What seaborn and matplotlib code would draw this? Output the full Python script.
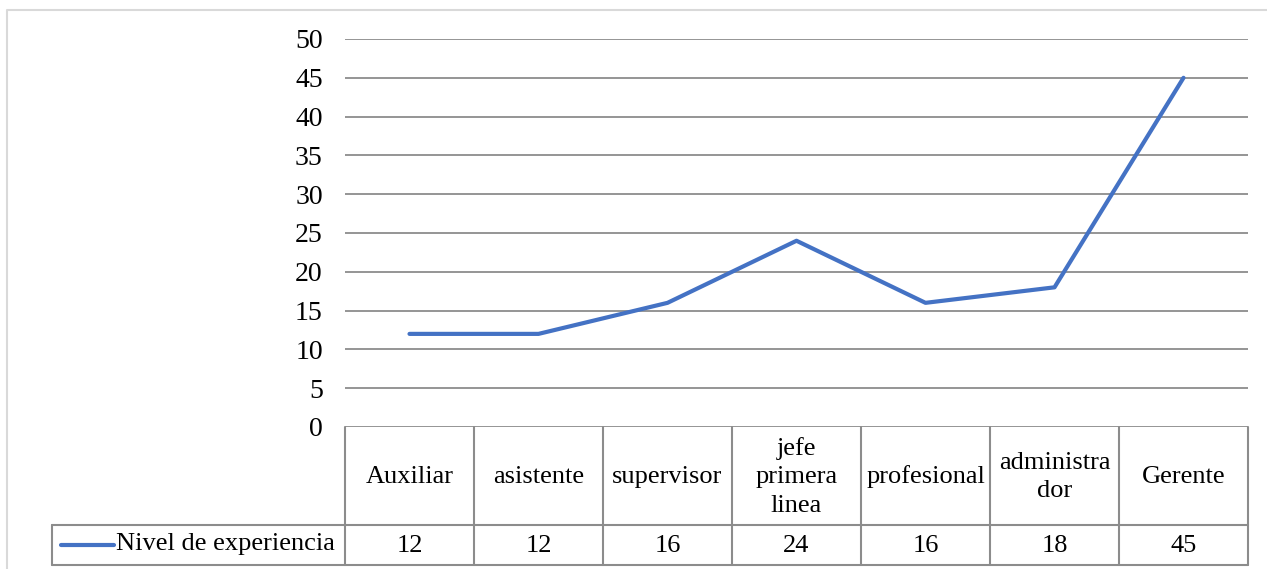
import matplotlib
matplotlib.use("Agg")
import matplotlib.pyplot as plt
import matplotlib.transforms as mtrans
import seaborn as sns
import pandas as pd

categories = ["Auxiliar", "asistente", "supervisor", "jefe\nprimera\nlinea",
              "profesional", "administra\ndor", "Gerente"]
values = [12, 12, 16, 24, 16, 18, 45]
series_name = "Nivel de experiencia"
y_ticks = [0, 5, 10, 15, 20, 25, 30, 35, 40, 45, 50]

sns.set_theme(style="white")
plt.rcParams['font.family'] = ['Liberation Serif', 'DejaVu Serif']
plt.rcParams['text.color'] = 'black'

FS = 19
W, H = 1267, 569
fig = plt.figure(figsize=(W / 100, H / 100), dpi=100)
fig.set_facecolor("white")

# plot area in pixels
x0, x1 = 345, 1248
ytop, y0 = 39, 427
row1_bot, row2_bot = 525, 565
leg_left = 52

ax = fig.add_axes([x0 / W, 1 - y0 / H, (x1 - x0) / W, (y0 - ytop) / H])
df = pd.DataFrame({"pos": range(len(categories)), "val": values})
sns.lineplot(data=df, x="pos", y="val", ax=ax, color="#4472C4", linewidth=3.0,
             solid_capstyle="round", solid_joinstyle="round", zorder=3)
ax.set_xlim(-0.5, len(categories) - 0.5)
ax.set_ylim(0, 50)
ax.set_yticks(y_ticks)
ax.set_yticklabels([str(t) for t in y_ticks], fontsize=FS + 1, color="black")
ax.tick_params(axis="y", length=0, pad=16)
ax.set_xticks([])
ax.set_xlabel("")
ax.set_ylabel("")
for s in ax.spines.values():
    s.set_visible(False)
for t in y_ticks:
    ax.axhline(t, color="#8c8c8c", linewidth=1.3, zorder=1)

# data table below the axes
grid_color = "#8c8c8c"
tr = mtrans.blended_transform_factory(ax.transData, fig.transFigure)

def fy(py):
    return 1 - py / H

def fx(px):
    return px / W

lk = dict(color=grid_color, linewidth=1.5, clip_on=False)
for i in range(len(categories) + 1):
    xb = i - 0.5
    fig.add_artist(plt.Line2D([xb, xb], [fy(y0), fy(row2_bot)], transform=tr, **lk))
fig.add_artist(plt.Line2D([fx(leg_left), fx(x1)], [fy(row1_bot), fy(row1_bot)],
                          transform=fig.transFigure, **lk))
fig.add_artist(plt.Line2D([fx(leg_left), fx(x1)], [fy(row2_bot), fy(row2_bot)],
                          transform=fig.transFigure, **lk))
fig.add_artist(plt.Line2D([fx(leg_left), fx(leg_left)], [fy(row1_bot), fy(row2_bot)],
                          transform=fig.transFigure, **lk))

for i, (c, v) in enumerate(zip(categories, values)):
    fig.text(0, fy((y0 + row1_bot) / 2 + 1), c, transform=tr, fontsize=FS,
             ha="center", va="center", linespacing=1.4, color="black")
    fig.texts[-1].set_x(i)
    fig.text(0, fy((row1_bot + row2_bot) / 2 + 1), str(v), transform=tr,
             fontsize=FS, ha="center", va="center", color="black")
    fig.texts[-1].set_x(i)

# legend key inside the table
ymid = fy((row1_bot + row2_bot) / 2)
fig.add_artist(plt.Line2D([fx(61), fx(114)], [ymid, ymid], transform=fig.transFigure,
                          color="#4472C4", linewidth=3.0, solid_capstyle="round"))
fig.text(fx(116), ymid + 0.002, series_name, fontsize=FS, ha="left", va="center",
         color="black")

# outer chart frame
fig.add_artist(plt.Line2D([fx(7), fx(7), fx(1300)], [fy(600), fy(10), fy(10)],
                          transform=fig.transFigure, color="#d9d9d9", linewidth=1.5))

fig.savefig("out.png", dpi=100, facecolor="white")
